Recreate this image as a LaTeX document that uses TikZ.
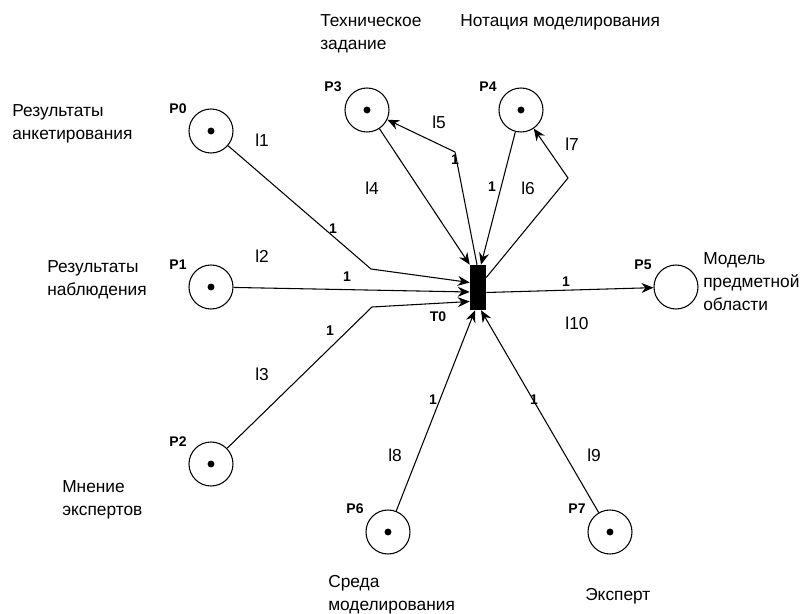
\documentclass[tikz,border=0pt]{standalone}
\usepackage{fontspec}
\setmainfont{Liberation Sans}
\usetikzlibrary{arrows.meta,calc}

\begin{document}
\begin{tikzpicture}[x=0.75pt,y=-0.75pt,
    place/.style={circle, draw, line width=0.8pt, minimum size=33pt, inner sep=0},
    marked/.style={place, path picture={\fill (path picture bounding box.center) circle (2.6pt);}},
    arc/.style={line width=0.8pt, -{Stealth[length=9pt,width=7.5pt,inset=3pt]}},
    pname/.style={font=\bfseries\fontsize{10.5}{12}\selectfont},
    weight/.style={font=\bfseries\fontsize{10.5}{12}\selectfont},
    arcname/.style={font=\fontsize{13}{15}\selectfont},
    note/.style={anchor=west, align=left, inner sep=0, font=\fontsize{13}{17.25}\selectfont}]
    \useasboundingbox (0,0) rectangle (801,614);

    % Places and transition
    \node[marked] (P0) at (211,131) {};
    \node[marked] (P1) at (211,287) {};
    \node[marked] (P2) at (211,464) {};
    \node[marked] (P3) at (367,110) {};
    \node[marked] (P4) at (521,110) {};
    \node[place]  (P5) at (676,287) {};
    \node[marked] (P6) at (388,532) {};
    \node[marked] (P7) at (610,532) {};
    \node[fill=black, minimum width=12pt, minimum height=33.75pt, inner sep=0] (T0) at (478,287.5) {};

    \node[pname] (nP0) at (178,109) {P0};
    \node[pname] (nP1) at (178,265) {P1};
    \node[pname] (nP2) at (178,442) {P2};
    \node[pname] (nP3) at (333,87) {P3};
    \node[pname] (nP4) at (488,87) {P4};
    \node[pname] (nP5) at (643,265) {P5};
    \node[pname] (nP6) at (355,509) {P6};
    \node[pname] (nP7) at (577,509) {P7};
    \node[pname] (nT0) at (438,317) {T0};

    % Bends
    \coordinate (b1) at (371,269);
    \coordinate (b3) at (372,307);
    \coordinate (b5) at (455,152);
    \coordinate (b7) at (568,178);

    % Arcs
    \draw[arc] (P0) -- (b1) -- ($(T0.west)+(0,-5)$);
    \draw[arc] (P1) -- ($(T0.west)+(0,4.5)$);
    \draw[arc] (P2) -- (b3) -- ($(T0.west)+(0,14)$);
    \draw[arc] (P3) -- (T0.north west);
    \draw[arc] ($(T0.north)+(-1,0)$) -- (b5) -- (P3);
    \draw[arc] (P4) -- ($(T0.north)+(3,0)$);
    \draw[arc] ($(T0.east)+(0,-10)$) -- (b7) -- (P4);
    \draw[arc] (P6) -- ($(T0.south)+(-3,0)$);
    \draw[arc] (P7) -- ($(T0.south)+(3,0)$);
    \draw[arc] ($(T0.east)+(0,5)$) -- (P5);

    % Weights
    \node[weight] (w1) at (333,229) {1};
    \node[weight] (w2) at (347,277) {1};
    \node[weight] (w3) at (330,331) {1};
    \node[weight] (w5) at (455,160) {1};
    \node[weight] (w6) at (492,187) {1};
    \node[weight] (w8) at (433,400) {1};
    \node[weight] (w9) at (534,400) {1};
    \node[weight] (w10) at (566,282) {1};

    % Arc names
    \node[arcname] (l1) at (262,140) {l1};
    \node[arcname] (l2) at (262,256) {l2};
    \node[arcname] (l3) at (262,374) {l3};
    \node[arcname] (l4) at (372,188) {l4};
    \node[arcname] (l5) at (439,122) {l5};
    \node[arcname] (l6) at (528,188) {l6};
    \node[arcname] (l7) at (572,144) {l7};
    \node[arcname] (l8) at (395,455) {l8};
    \node[arcname] (l9) at (594,455) {l9};
    \node[arcname] (l10) at (577,323) {l10};

    % Descriptions
    \node[note] (dP0) at (12,123.5) {Результаты\\анкетирования};
    \node[note] (dP1) at (47,279.5) {Результаты\\наблюдения};
    \node[note] (dP2) at (62,499.5) {Мнение\\экспертов};
    \node[note] (dP3) at (320,33.5) {Техническое\\задание};
    \node[note] (dP4) at (460,22) {Нотация моделирования};
    \node[note] (dP5) at (703,281.5) {Модель\\предметной\\области};
    \node[note] (dP6) at (328,594.5) {Среда\\моделирования};
    \node[note] (dP7) at (585,596) {Эксперт};
\end{tikzpicture}
\end{document}
